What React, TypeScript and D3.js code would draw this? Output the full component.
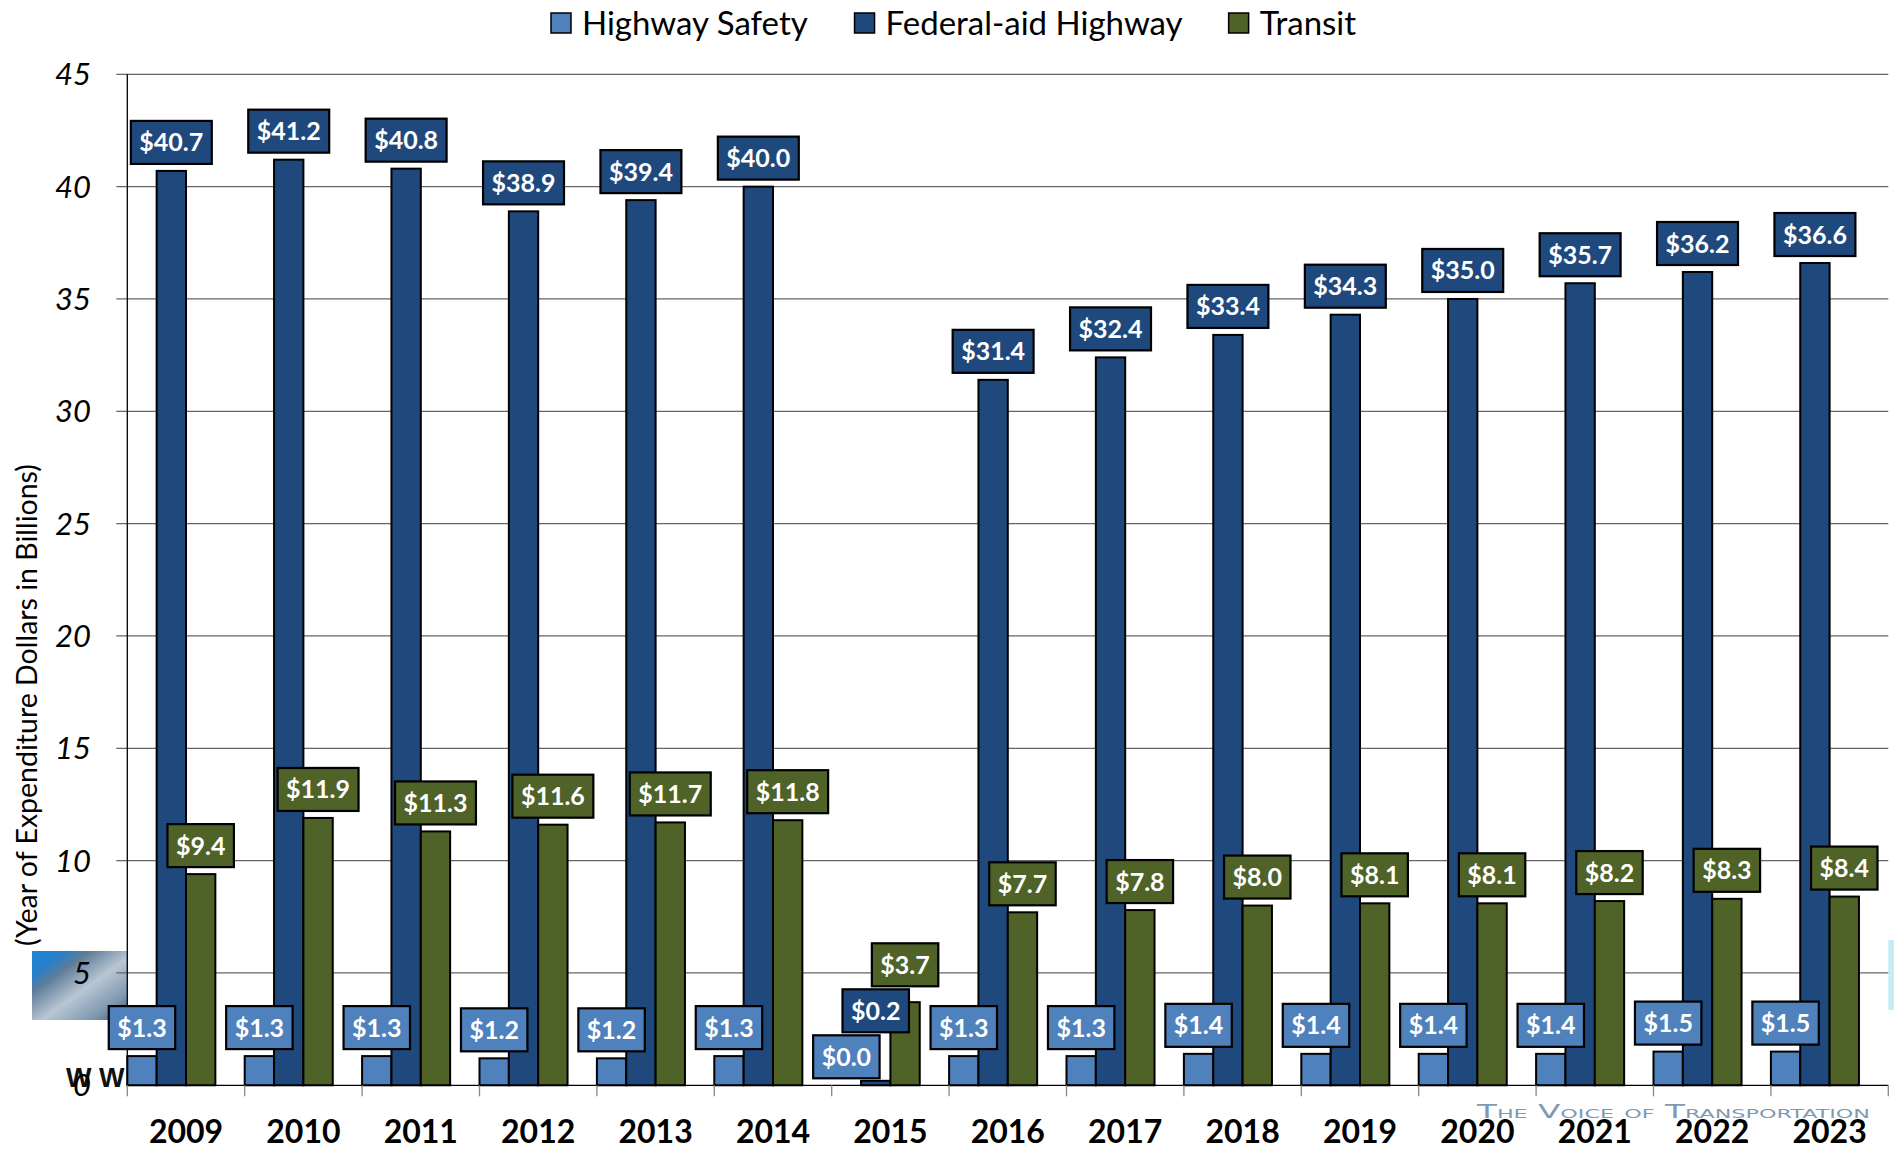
import React from 'react';
import * as d3 from 'd3';

const years = ['2009', '2010', '2011', '2012', '2013', '2014', '2015', '2016', '2017', '2018', '2019', '2020', '2021', '2022', '2023'];
const highwaySafety = [1.3, 1.3, 1.3, 1.2, 1.2, 1.3, 0.0, 1.3, 1.3, 1.4, 1.4, 1.4, 1.4, 1.5, 1.5];
const federalAidHighway = [40.7, 41.2, 40.8, 38.9, 39.4, 40.0, 0.2, 31.4, 32.4, 33.4, 34.3, 35.0, 35.7, 36.2, 36.6];
const transit = [9.4, 11.9, 11.3, 11.6, 11.7, 11.8, 3.7, 7.7, 7.8, 8.0, 8.1, 8.1, 8.2, 8.3, 8.4];
const seriesNames = ['Highway Safety', 'Federal-aid Highway', 'Transit'];
const seriesColors = ['#4F81BD', '#1F497D', '#4F6228'];
const yTicks = [0, 5, 10, 15, 20, 25, 30, 35, 40, 45];
const yTitle = '(Year of Expenditure Dollars in Billions)';

const W = 1894;
const H = 1151;
const PLOT = { left: 127.3, right: 1888.3, top: 74.3, bottom: 1085.3 };

let ctx: CanvasRenderingContext2D | null = null;
function measure(text: string, font: string, fallbackEm: number, size: number) {
  try {
    if (!ctx) ctx = document.createElement('canvas').getContext('2d');
    if (ctx) {
      ctx.font = font;
      return ctx.measureText(text).width;
    }
  } catch (e) {}
  return text.length * fallbackEm * size;
}

export default function App() {
  const x = d3.scaleBand<string>().domain(years).range([PLOT.left, PLOT.right]).paddingInner(0).paddingOuter(0);
  const bw = x.bandwidth();
  const xs = d3.scaleBand<string>().domain(seriesNames).range([0, bw * 0.75]);
  const y = d3.scaleLinear().domain([0, 45]).range([PLOT.bottom, PLOT.top]);
  const series = [highwaySafety, federalAidHighway, transit];

  const labelFont = 'bold 25px Lato';
  const labelH = 43;
  type Box = { x0: number; x1: number; y0: number; y1: number; text: string; color: string; cx: number };
  const labels: Box[] = [];
  years.forEach((yr, i) => {
    const placed: Box[] = [];
    series.forEach((vals, s) => {
      const v = vals[i];
      const text = '$' + v.toFixed(1);
      const tw = measure(text, labelFont, 0.52, 25);
      const w = tw + 17;
      let cx = (x(yr) as number) + (xs(seriesNames[s]) as number) + xs.bandwidth() / 2;
      const bottom = y(v) - 7;
      let box: Box = { x0: cx - w / 2, x1: cx + w / 2, y0: bottom - labelH, y1: bottom, text, color: seriesColors[s], cx };
      let changed = true;
      let guard = 0;
      while (changed && guard < 20) {
        changed = false;
        guard++;
        for (const p of placed) {
          if (box.x0 < p.x1 && box.x1 > p.x0 && box.y0 < p.y1 && box.y1 > p.y0) {
            const nb = p.y0 - 3;
            box = { ...box, y0: nb - labelH, y1: nb };
            changed = true;
          }
        }
      }
      placed.push(box);
      labels.push(box);
    });
  });

  // legend layout
  const legendSize = 33;
  const legendFont = `${legendSize}px Lato`;
  let lx = 551;
  const legendItems = seriesNames.map((name, i) => {
    const tw = measure(name, legendFont, 0.5, legendSize);
    const item = { name, color: seriesColors[i], sx: lx, tx: lx + 31 };
    lx = lx + 31 + tw + 46;
    return item;
  });

  return (
    <div style={{ position: 'absolute', left: 0, top: 0 }}>
      <svg width={W} height={H} style={{ display: 'block', background: '#fff' }}>
        <defs>
          <linearGradient id="photo" x1="0" x2="1" y1="0" y2="1">
            <stop offset="0" stopColor="#1d86d8" />
            <stop offset="0.18" stopColor="#2a7fc8" />
            <stop offset="0.3" stopColor="#5e7c98" />
            <stop offset="0.55" stopColor="#b9c6d3" />
            <stop offset="0.8" stopColor="#7f98b0" />
            <stop offset="1" stopColor="#3d5870" />
          </linearGradient>
        </defs>
        {/* background artwork */}
        <rect x={32} y={951} width={96} height={69} fill="url(#photo)" />
        <text x={66} y={1087} fontFamily="Liberation Sans, Arial" fontWeight="bold" fontSize={27} fill="#111">W W</text>
        <text x={1477} y={1118} fontFamily="DejaVu Sans, Verdana" fontSize={19} fill="#7f9ab3" style={{ fontVariant: 'small-caps' }} textLength={393} lengthAdjust="spacingAndGlyphs">The Voice of Transportation</text>
        <rect x={1888} y={940} width={6} height={70} fill="#c4ecf6" />

        {/* plot area */}
        <rect x={PLOT.left} y={PLOT.top - 2} width={PLOT.right - PLOT.left} height={PLOT.bottom - PLOT.top + 2} fill="#fff" />
        {yTicks.filter((t) => t > 0).map((t) => (
          <line key={'g' + t} x1={PLOT.left - 11} x2={PLOT.right} y1={y(t)} y2={y(t)} stroke="#666" strokeWidth={1.2} />
        ))}
        {yTicks.map((t) => (
          <text key={'yl' + t} x={91} y={y(t) + 11} textAnchor="end" fontFamily="Lato" fontStyle="italic" fontSize={31} fill="#000">{t}</text>
        ))}
        <text transform={`translate(37,705) rotate(-90)`} textAnchor="middle" fontFamily="Lato" fontSize={28.5} fill="#000">{yTitle}</text>

        {/* bars */}
        {years.map((yr, i) => (
          <g key={'bars' + yr}>
            {series.map((vals, s) => (
              <rect
                key={s}
                x={(x(yr) as number) + (xs(seriesNames[s]) as number)}
                y={y(vals[i])}
                width={xs.bandwidth()}
                height={Math.max(0, y(0) - y(vals[i]))}
                fill={seriesColors[s]}
                stroke="#000"
                strokeWidth={2}
              />
            ))}
          </g>
        ))}

        {/* axes */}
        <line x1={PLOT.left} x2={PLOT.left} y1={PLOT.top} y2={PLOT.bottom} stroke="#000" strokeWidth={1.3} />
        <line x1={PLOT.left} x2={PLOT.right} y1={PLOT.bottom} y2={PLOT.bottom} stroke="#000" strokeWidth={1.3} />
        {[...years.map((yr) => x(yr) as number), PLOT.right].map((tx, k) => (
          <line key={'xt' + k} x1={tx} x2={tx} y1={PLOT.bottom} y2={PLOT.bottom + 11} stroke="#888" strokeWidth={1.3} />
        ))}
        {years.map((yr) => (
          <text key={'xl' + yr} x={(x(yr) as number) + bw / 2} y={1143} textAnchor="middle" fontFamily="Lato" fontWeight="bold" fontSize={32} fill="#000">{yr}</text>
        ))}

        {/* data labels */}
        {labels.map((b, k) => (
          <g key={'lb' + k}>
            <rect x={b.x0} y={b.y0} width={b.x1 - b.x0} height={b.y1 - b.y0} fill={b.color} stroke="#000" strokeWidth={2.2} />
            <text x={b.cx} y={(b.y0 + b.y1) / 2 + 9} textAnchor="middle" fontFamily="Lato" fontWeight="bold" fontSize={25} fill="#fff">{b.text}</text>
          </g>
        ))}

        {/* legend */}
        {legendItems.map((it) => (
          <g key={'lg' + it.name}>
            <rect x={it.sx} y={13} width={20} height={20} fill={it.color} stroke="#000" strokeWidth={1.5} />
            <text x={it.tx} y={35} fontFamily="Lato" fontSize={legendSize} fill="#000">{it.name}</text>
          </g>
        ))}
      </svg>
    </div>
  );
}
